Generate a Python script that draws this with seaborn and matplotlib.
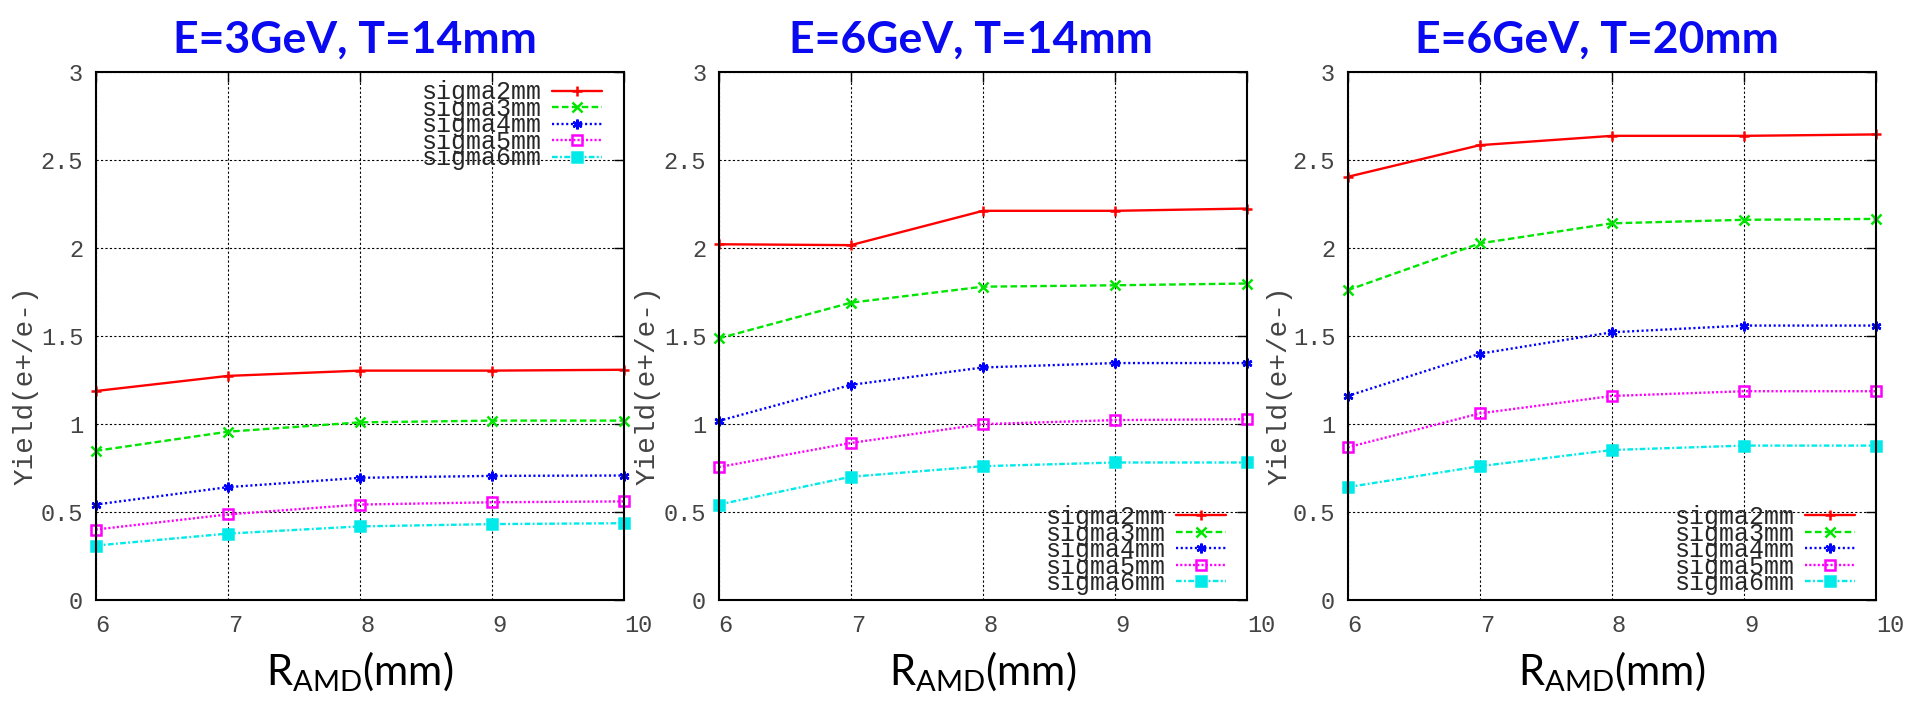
import numpy as np
import pandas as pd
import seaborn as sns
import matplotlib.pyplot as plt

# DATA
r_amd = [6, 7, 8, 9, 10]
series_names = ["sigma2mm", "sigma3mm", "sigma4mm", "sigma5mm", "sigma6mm"]
panel_titles = ["E=3GeV, T=14mm", "E=6GeV, T=14mm", "E=6GeV, T=20mm"]

# E=3GeV, T=14mm
p1_sigma2 = [1.19, 1.276, 1.306, 1.306, 1.311]
p1_sigma3 = [0.85, 0.959, 1.012, 1.022, 1.022]
p1_sigma4 = [0.545, 0.644, 0.697, 0.708, 0.710]
p1_sigma5 = [0.403, 0.489, 0.545, 0.558, 0.563]
p1_sigma6 = [0.312, 0.380, 0.421, 0.434, 0.439]

# E=6GeV, T=14mm
p2_sigma2 = [2.024, 2.019, 2.214, 2.214, 2.227]
p2_sigma3 = [1.489, 1.692, 1.783, 1.791, 1.801]
p2_sigma4 = [1.020, 1.225, 1.324, 1.349, 1.349]
p2_sigma5 = [0.758, 0.895, 1.002, 1.025, 1.030]
p2_sigma6 = [0.545, 0.703, 0.763, 0.784, 0.784]

# E=6GeV, T=20mm
p3_sigma2 = [2.407, 2.587, 2.640, 2.640, 2.648]
p3_sigma3 = [1.763, 2.029, 2.143, 2.163, 2.168]
p3_sigma4 = [1.162, 1.402, 1.524, 1.562, 1.562]
p3_sigma5 = [0.870, 1.063, 1.162, 1.189, 1.189]
p3_sigma6 = [0.644, 0.763, 0.855, 0.880, 0.880]

panels = [
    [p1_sigma2, p1_sigma3, p1_sigma4, p1_sigma5, p1_sigma6],
    [p2_sigma2, p2_sigma3, p2_sigma4, p2_sigma5, p2_sigma6],
    [p3_sigma2, p3_sigma3, p3_sigma4, p3_sigma5, p3_sigma6],
]
y_ticks = [0, 0.5, 1, 1.5, 2, 2.5, 3]
y_tick_labels = ["0", "0.5", "1", "1.5", "2", "2.5", "3"]
x_tick_labels = ["6", "7", "8", "9", "10"]

# STYLE
sns.set_style("white")
plt.rcParams["font.family"] = ["Lato", "DejaVu Sans"]
plt.rcParams["mathtext.fontset"] = "custom"
plt.rcParams["mathtext.rm"] = "Lato"
plt.rcParams["mathtext.it"] = "Lato"

colors = ["#ff0000", "#00e600", "#0000ff", "#ff00ff", "#00eaea"]
linestyles = ["-", (0, (2.8, 1.4)), (0, (0.9, 1.1)), (0, (0.9, 0.9)), (0, (2.4, 1, 0.8, 1))]
markers = ["+", "x", (6, 2, 0), "s", "s"]
mfaces = ["#ff0000", "#00e600", "#0000ff", "none", "#00eaea"]
legend_locs = [("upper right", (0.957, 0.985)), ("lower right", (0.96, 0.01)), ("lower right", (0.96, 0.01))]
title_x = [0.49, 0.477, 0.472]
ylabel_x = [-0.132, -0.134, -0.128]

gray = "#444444"

fig = plt.figure(figsize=(19.14, 7.01), dpi=100)
lefts = [0.0500, 0.3755, 0.7041]
axes = [fig.add_axes([l, 0.1434, 0.2762, 0.7532]) for l in lefts]

for i, (ax, data, title) in enumerate(zip(axes, panels, panel_titles)):
    for name, vals, c, ls, m, mf in zip(series_names, data, colors, linestyles, markers, mfaces):
        df = pd.DataFrame({"R": r_amd, "Y": vals})
        sns.lineplot(data=df, x="R", y="Y", ax=ax, color=c, linestyle=ls, linewidth=1.7,
                     marker=m, markersize=7, markerfacecolor=mf, markeredgecolor=c,
                     markeredgewidth=1.8, label=name, clip_on=False)
    ax.set_xlim(6, 10)
    ax.set_ylim(0, 3)
    ax.set_xticks(r_amd)
    ax.set_xticklabels(x_tick_labels, fontfamily="Liberation Mono", fontsize=17, color=gray, ha="left")
    ax.set_yticks(y_ticks)
    ax.set_yticklabels(y_tick_labels, fontfamily="Liberation Mono", fontsize=17, color=gray)
    ax.tick_params(direction="in", length=7, width=1, top=True, right=True, colors="black",
                   labelcolor=gray)
    ax.tick_params(axis="x", pad=10)
    ax.tick_params(axis="y", pad=9)
    ax.grid(True, color="black", linestyle=(0, (2, 2)), linewidth=0.8)
    for s in ax.spines.values():
        s.set_color("black")
        s.set_linewidth(1.5)
    ax.set_ylabel("Yield(e+/e-)", fontfamily="Liberation Mono", fontsize=20, color=gray)
    ax.yaxis.label.set_va("center")
    ax.yaxis.set_label_coords(ylabel_x[i], 0.407)
    ax.set_xlabel(r"R$_{\mathrm{AMD}}$(mm)", fontsize=30, color="black")
    ax.xaxis.label.set_va("center")
    ax.xaxis.set_label_coords(0.5, -0.135)
    ax.set_title(title, fontsize=32, fontweight="bold", color="#0a0af0", pad=14, x=title_x[i])
    loc, anchor = legend_locs[i]
    ax.legend(loc=loc, bbox_to_anchor=anchor, frameon=False, markerfirst=False,
              prop={"family": "Liberation Mono", "size": 18}, handlelength=2.0,
              labelspacing=-0.3, handletextpad=0.4, borderaxespad=0, borderpad=0)

fig.savefig("out.png", dpi=100)
